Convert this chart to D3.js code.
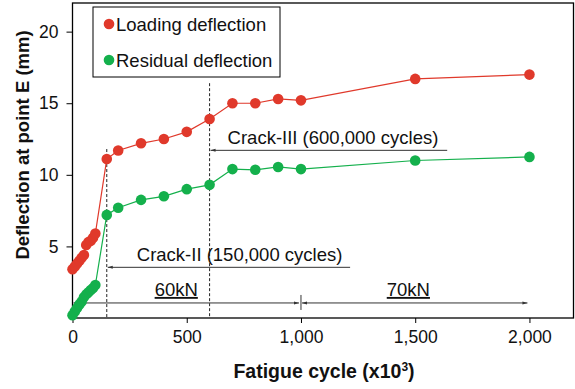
<!DOCTYPE html>
<html>
<head>
<meta charset="utf-8">
<script src="https://cdn.jsdelivr.net/npm/d3@7"></script>
<style>
  body { margin: 0; background: #fff; }
  text { font-family: "Liberation Sans", Arial, sans-serif; }
</style>
</head>
<body>
<div id="chart"></div>
<script>
// fatigue cycles (x10^3)
const cycles = [0, 10, 20, 30, 40, 50, 60, 70, 80, 90, 100,
                150, 200, 300, 400, 500, 600, 700, 800, 900, 1000, 1500, 2000];
// deflection at point E (mm)
const loading = [3.4, 3.6, 3.8, 4.0, 4.2, 4.4, 5.1, 5.3, 5.4, 5.6, 5.9,
                 11.1, 11.7, 12.2, 12.5, 13.0, 13.9, 15.0, 15.0, 15.3, 15.2, 16.7, 17.0];
const residual = [0.2, 0.45, 0.7, 0.95, 1.15, 1.45, 1.65, 1.8, 1.95, 2.1, 2.3,
                  7.2, 7.7, 8.25, 8.5, 9.0, 9.3, 10.4, 10.35, 10.55, 10.4, 11.0, 11.25];
const xTicks = [0, 500, 1000, 1500, 2000];
const yTicks = [5, 10, 15, 20];

// crack markers: cycle, top of dashed line (mm), label, label level (mm)
const cracks = [
  {x: 150, top: 11.8, label: "Crack-II (150,000 cycles)", level: 3.54, end: 1215, dx: 30},
  {x: 600, top: 16.4, label: "Crack-III (600,000 cycles)", level: 11.71, end: 1640, dx: 18}
];
// load stages
const stages = [
  {from: 0, to: 1000, label: "60kN", at: 454},
  {from: 1000, to: 2000, label: "70kN", at: 1470}
];

const width = 575, height = 389;
const margin = {top: 3, right: 1, bottom: 71, left: 72.5};

const svg = d3.select("#chart").append("svg")
  .attr("width", width)
  .attr("height", height);

const x = d3.scaleLinear().domain([0, 2195]).range([margin.left, width - margin.right]);
const y = d3.scaleLinear().domain([0, 22]).range([height - margin.bottom, margin.top]);

const red = "#e0392b", green = "#14b04c";

// axes
svg.append("g")
  .attr("transform", `translate(0,${y(0)})`)
  .call(d3.axisBottom(x).tickValues(xTicks).tickSize(5).tickPadding(8).tickFormat(d3.format(",")))
  .call(g => g.select(".domain").remove())
  .call(g => g.selectAll("text").attr("font-size", 17.5).attr("fill", "#111"));

svg.append("g")
  .attr("transform", `translate(${margin.left},0)`)
  .call(d3.axisLeft(y).tickValues(yTicks).tickSize(6).tickPadding(8))
  .call(g => g.select(".domain").remove())
  .call(g => g.selectAll("text").attr("font-size", 17.5).attr("fill", "#111"));

// frame
svg.append("rect")
  .attr("x", margin.left).attr("y", margin.top)
  .attr("width", width - margin.right - margin.left - 0.5)
  .attr("height", y(0) - margin.top)
  .attr("fill", "none").attr("stroke", "#000").attr("stroke-width", 1.3);

// arrow marker
const defs = svg.append("defs");
defs.append("marker")
  .attr("id", "arr")
  .attr("viewBox", "0 0 10 10")
  .attr("refX", 10).attr("refY", 5)
  .attr("markerWidth", 7).attr("markerHeight", 5)
  .attr("orient", "auto-start-reverse")
  .append("path").attr("d", "M0,2 L10,5 L0,8 Z").attr("fill", "#333");

// crack lines and labels
cracks.forEach(c => {
  svg.append("line")
    .attr("x1", x(c.x)).attr("x2", x(c.x))
    .attr("y1", y(c.top)).attr("y2", y(0))
    .attr("stroke", "#222").attr("stroke-dasharray", "3,2").attr("stroke-width", 1);
  svg.append("line")
    .attr("x1", x(c.x) + 1).attr("x2", x(c.end))
    .attr("y1", y(c.level)).attr("y2", y(c.level))
    .attr("stroke", "#333").attr("stroke-width", 1)
    .attr("marker-start", "url(#arr)");
  svg.append("text")
    .attr("x", x(c.x) + c.dx).attr("y", y(c.level) - 6)
    .attr("font-size", 18.5).attr("fill", "#111")
    .text(c.label);
});

// load stage arrows
const stageY = y(1.05);
stages.forEach(s => {
  svg.append("line")
    .attr("x1", x(s.from) + 1).attr("x2", x(s.to) - 2)
    .attr("y1", stageY).attr("y2", stageY)
    .attr("stroke", "#333").attr("stroke-width", 1)
    .attr("marker-start", "url(#arr)")
    .attr("marker-end", "url(#arr)");
  svg.append("text")
    .attr("x", x(s.at)).attr("y", stageY - 7)
    .attr("text-anchor", "middle")
    .attr("font-size", 18.5).attr("fill", "#111")
    .attr("text-decoration", "underline")
    .text(s.label);
});
svg.append("line")
  .attr("x1", x(1000)).attr("x2", x(1000))
  .attr("y1", stageY - 8).attr("y2", stageY + 7)
  .attr("stroke", "#333").attr("stroke-width", 1);

// series
const series = [
  {name: "Loading deflection", values: loading, color: red},
  {name: "Residual deflection", values: residual, color: green}
];
const line = d3.line().x(d => x(d[0])).y(d => y(d[1]));

series.forEach(s => {
  const pts = cycles.map((c, i) => [c, s.values[i]]);
  svg.append("path")
    .attr("d", line(pts))
    .attr("fill", "none").attr("stroke", s.color).attr("stroke-width", 1.2);
  svg.append("g").selectAll("circle")
    .data(pts).join("circle")
    .attr("cx", d => x(d[0])).attr("cy", d => y(d[1]))
    .attr("r", 5.3).attr("fill", s.color);
});

// legend
const lg = svg.append("g");
lg.append("rect")
  .attr("x", 93).attr("y", 7).attr("width", 187).attr("height", 70)
  .attr("fill", "#fff").attr("stroke", "#000").attr("stroke-width", 1);
series.forEach((s, i) => {
  const cy = 24 + i * 36;
  lg.append("circle").attr("cx", 109).attr("cy", cy).attr("r", 5.3).attr("fill", s.color);
  lg.append("text").attr("x", 116).attr("y", cy + 6.5)
    .attr("font-size", 18.5).attr("fill", "#111").text(s.name);
});

// axis titles
svg.append("text")
  .attr("x", 324).attr("y", 378)
  .attr("text-anchor", "middle")
  .attr("font-size", 19.5).attr("font-weight", "bold").attr("fill", "#111")
  .html('Fatigue cycle (x10<tspan dy="-7" font-size="12">3</tspan><tspan dy="7">)</tspan>');

svg.append("text")
  .attr("transform", "translate(29,145) rotate(-90)")
  .attr("text-anchor", "middle")
  .attr("font-size", 18.5).attr("font-weight", "bold").attr("fill", "#111")
  .text("Deflection at point E (mm)");
</script>
</body>
</html>
